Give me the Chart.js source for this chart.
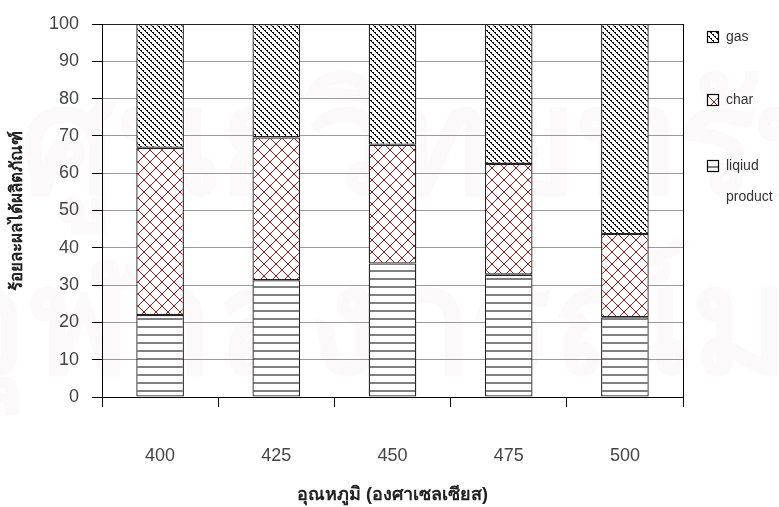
<!DOCTYPE html>
<html>
<head>
<meta charset="utf-8">
<script src="https://cdn.jsdelivr.net/npm/chart.js@4"></script>
<style>
  body { margin: 0; background: #fff; }
  #wrap { width: 779px; height: 507px; position: relative; }
</style>
</head>
<body>
<div id="wrap"><canvas id="myChart"></canvas></div>
<script>
// temperatures (deg C) and product yields (%)
const temps = ['400', '425', '450', '475', '500'];
const liquidVals = [22.0, 31.3, 35.8, 32.8, 21.4];
const charVals = [44.8, 38.3, 31.8, 29.7, 22.3];
const gasVals = [33.2, 30.4, 32.4, 37.5, 56.3];
const yTicks = [0, 10, 20, 30, 40, 50, 60, 70, 80, 90, 100];
const legendNames = ['gas', 'char', ['liqiud', 'product']];

const numFont = "'Liberation Sans', Arial, sans-serif";

// --- fill patterns ---
function makeTile(w, h, draw) {
    const c = document.createElement('canvas');
    c.width = w; c.height = h;
    const g = c.getContext('2d');
    g.fillStyle = '#fff';
    g.fillRect(0, 0, w, h);
    draw(g);
    return document.createElement('canvas').getContext('2d').createPattern(c, 'repeat');
}
const gasPattern = makeTile(6, 6, g => {
    g.fillStyle = '#000';
    for (let i = 0; i < 6; i++) {
        g.fillRect(i, i, 1, 1);
        if (i % 2 == 0) g.fillRect((i + 1) % 6, i, 1, 1);
    }
});
const charPattern = makeTile(12, 12, g => {
    g.fillStyle = '#a01818';
    for (let i = 0; i < 12; i++) {
        g.fillRect(i, i, 1, 1);
        g.fillRect(11 - i, i, 1, 1);
    }
});
const liquidPattern = makeTile(4, 8, g => {
    g.fillStyle = '#808080';
    g.fillRect(0, 6, 4, 2);
});
const patterns = [gasPattern, charPattern, liquidPattern];

// faint background watermark + custom legend
const extras = {
    id: 'extras',
    beforeDraw(chart) {
        const ctx = chart.ctx;
        ctx.save();
        ctx.fillStyle = 'rgba(200,165,178,0.07)';
        ctx.font = "bold 150px 'Noto Sans', 'DejaVu Sans', sans-serif";
        ctx.textBaseline = 'middle';
        ctx.fillText('ศูนย์วิทยทรัพยากร', 20, 150);
        ctx.fillText('จุฬาลงกรณ์มหาวิทยาลัย', -60, 330);
        ctx.restore();
    },
    afterDraw(chart) {
        const ctx = chart.ctx;
        const a = chart.chartArea;
        ctx.save();
        // right border of plot
        ctx.strokeStyle = '#000';
        ctx.lineWidth = 1;
        ctx.beginPath();
        ctx.moveTo(Math.round(a.right) + 0.5, a.top);
        ctx.lineTo(Math.round(a.right) + 0.5, a.bottom);
        ctx.stroke();
        // legend
        const rows = [37, 100, 166];
        ctx.font = "14px " + numFont;
        ctx.textBaseline = 'middle';
        for (let i = 0; i < 3; i++) {
            const y = rows[i];
            ctx.fillStyle = patterns[i];
            ctx.fillRect(707, y - 6, 11, 11);
            ctx.strokeStyle = '#000';
            ctx.lineWidth = 1.2;
            ctx.strokeRect(707.5, y - 5.5, 11, 11);
            ctx.fillStyle = '#333';
            const t = legendNames[i];
            if (Array.isArray(t)) {
                t.forEach((s, k) => ctx.fillText(s, 726, y + k * 31));
            } else {
                ctx.fillText(t, 726, y);
            }
        }
        ctx.restore();
    }
};

const barStyle = {
    borderColor: '#222',
    borderWidth: 1.3,
    borderSkipped: false,
    barPercentage: 0.41,
    categoryPercentage: 1
};

new Chart(document.getElementById('myChart'), {
    type: 'bar',
    data: {
        labels: temps,
        datasets: [
            Object.assign({ label: 'liqiud product', data: liquidVals, backgroundColor: liquidPattern }, barStyle),
            Object.assign({ label: 'char', data: charVals, backgroundColor: charPattern }, barStyle),
            Object.assign({ label: 'gas', data: gasVals, backgroundColor: gasPattern }, barStyle)
        ]
    },
    options: {
        responsive: true,
        maintainAspectRatio: false,
        animation: false,
        layout: { padding: { top: 24, right: 96, left: 0, bottom: 0 } },
        plugins: {
            legend: { display: false },
            tooltip: { enabled: false }
        },
        scales: {
            x: {
                stacked: true,
                afterFit: s => { s.height = 110; },
                grid: {
                    offset: true,
                    drawOnChartArea: false,
                    tickLength: 10,
                    tickColor: '#000'
                },
                border: { color: '#000', width: 1 },
                ticks: {
                    padding: 38,
                    color: '#444',
                    font: { family: numFont, size: 18 }
                },
                title: {
                    display: true,
                    text: 'อุณหภูมิ (องศาเซลเซียส)',
                    color: '#222',
                    font: { size: 18, weight: 'bold' },
                    padding: { top: 0, bottom: 1 }
                }
            },
            y: {
                stacked: true,
                min: 0,
                max: 100,
                afterFit: s => { s.width = 102; },
                afterBuildTicks: s => { s.ticks = yTicks.map(v => ({ value: v })); },
                grid: {
                    color: ctx => ctx.tick && ctx.tick.value === 100 ? '#222' : '#9a9a9a',
                    tickLength: 10,
                    tickColor: '#000'
                },
                border: { color: '#000', width: 1 },
                ticks: {
                    padding: 13,
                    color: '#444',
                    font: { family: numFont, size: 18 }
                },
                title: {
                    display: true,
                    text: 'ร้อยละผลได้ผลิตภัณฑ์',
                    color: '#222',
                    font: { size: 17, weight: 'bold' },
                    padding: { top: 7, bottom: 0 }
                }
            }
        }
    },
    plugins: [extras]
});
</script>
</body>
</html>
